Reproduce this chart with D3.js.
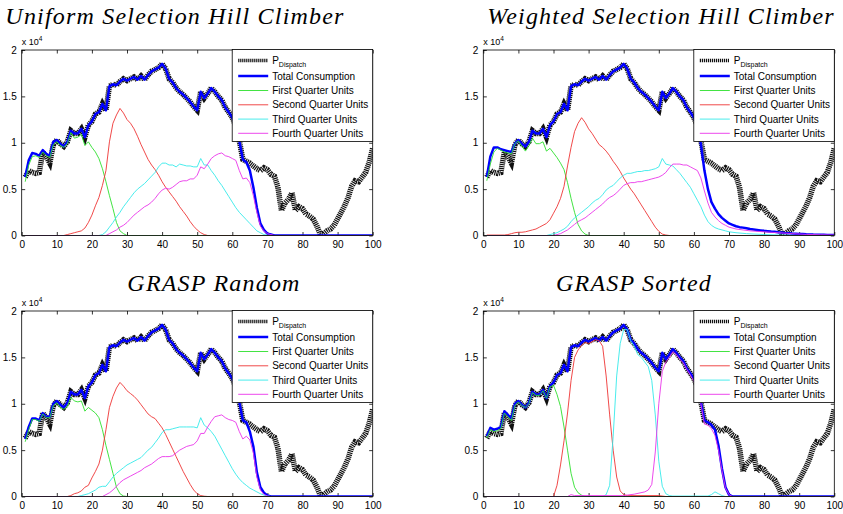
<!DOCTYPE html>
<html>
<head>
<meta charset="utf-8">
<script src="https://cdn.jsdelivr.net/npm/d3@7"></script>
<style>
body { margin: 0; background: #fff; }
svg { display: block; }
</style>
</head>
<body>
<svg id="svg" width="843" height="514"></svg>
<script>
var svg = d3.select("#svg");

// sample index on the x axis
var steps = d3.range(1, 101);

// values in units of 10^4
var pDispatch = [
  0.63,0.70,0.68,0.67,0.68,0.90,0.85,0.78,0.98,1.03,
  0.99,0.96,1.01,1.13,1.10,1.10,1.15,1.06,1.19,1.23,
  1.31,1.33,1.42,1.35,1.61,1.63,1.62,1.66,1.69,1.67,
  1.69,1.71,1.68,1.72,1.68,1.73,1.77,1.79,1.81,1.85,
  1.80,1.69,1.65,1.59,1.55,1.52,1.48,1.44,1.39,1.35,
  1.55,1.48,1.53,1.59,1.55,1.50,1.46,1.38,1.33,1.27,
  1.18,1.02,0.82,0.80,0.78,0.75,0.72,0.70,0.73,0.71,
  0.66,0.64,0.52,0.27,0.35,0.39,0.46,0.27,0.31,0.29,
  0.23,0.21,0.18,0.11,0.02,0.02,0.05,0.07,0.11,0.18,
  0.25,0.32,0.41,0.53,0.59,0.58,0.63,0.68,0.79,0.94
];

var uniformTotal = [
  0.63,0.81,0.89,0.88,0.86,0.92,0.88,0.86,1.01,1.03,
  0.99,0.96,1.01,1.13,1.10,1.10,1.15,1.06,1.19,1.23,
  1.31,1.33,1.42,1.35,1.61,1.63,1.62,1.66,1.69,1.67,
  1.69,1.71,1.68,1.72,1.68,1.73,1.77,1.79,1.81,1.85,
  1.80,1.69,1.65,1.59,1.55,1.52,1.48,1.44,1.39,1.35,
  1.55,1.48,1.53,1.59,1.55,1.50,1.46,1.38,1.33,1.27,
  1.18,1.02,0.82,0.79,0.70,0.52,0.30,0.13,0.06,0.02,
  0.01,0,0,0,0,0,0,0,0,0,
  0,0,0,0,0,0,0,0,0,0,
  0,0,0,0,0,0,0,0,0,0
];
var weightedTotal = [
  0.63,0.85,0.95,0.95,0.93,0.92,0.91,0.90,0.99,1.03,
  0.99,0.96,1.01,1.13,1.10,1.10,1.15,1.06,1.19,1.23,
  1.31,1.33,1.42,1.35,1.61,1.63,1.62,1.66,1.69,1.67,
  1.69,1.71,1.68,1.72,1.68,1.73,1.77,1.79,1.81,1.85,
  1.80,1.69,1.65,1.59,1.55,1.52,1.48,1.44,1.39,1.35,
  1.55,1.48,1.53,1.59,1.55,1.50,1.46,1.38,1.33,1.27,
  1.18,0.98,0.70,0.50,0.36,0.29,0.23,0.19,0.16,0.13,
  0.115,0.10,0.09,0.085,0.078,0.07,0.065,0.06,0.055,0.05,
  0.047,0.043,0.04,0.035,0.032,0.028,0.025,0.022,0.02,0.017,
  0.015,0.013,0.012,0.01,0.009,0.008,0.007,0.006,0.005,0.005
];
var randomTotal = [
  0.62,0.75,0.84,0.84,0.82,0.90,0.86,0.86,1.00,1.03,
  0.99,0.96,1.01,1.13,1.10,1.10,1.15,1.06,1.19,1.23,
  1.31,1.33,1.42,1.35,1.61,1.63,1.62,1.66,1.69,1.67,
  1.69,1.71,1.68,1.72,1.68,1.73,1.77,1.79,1.81,1.85,
  1.80,1.69,1.65,1.59,1.55,1.52,1.48,1.44,1.39,1.35,
  1.55,1.48,1.53,1.59,1.55,1.50,1.46,1.38,1.33,1.27,
  1.18,1.02,0.82,0.80,0.70,0.54,0.26,0.10,0.04,0.01,
  0,0,0,0,0,0,0,0,0,0,
  0,0,0,0,0,0,0,0,0,0,
  0,0,0,0,0,0,0,0,0,0
];
var sortedTotal = [
  0.65,0.74,0.72,0.73,0.75,0.92,0.88,0.84,1.00,1.03,
  0.99,0.96,1.01,1.13,1.10,1.10,1.15,1.06,1.19,1.23,
  1.31,1.33,1.42,1.35,1.61,1.63,1.62,1.66,1.69,1.67,
  1.69,1.71,1.68,1.72,1.68,1.73,1.77,1.79,1.81,1.85,
  1.80,1.69,1.65,1.59,1.55,1.52,1.48,1.44,1.39,1.35,
  1.55,1.48,1.53,1.59,1.55,1.50,1.46,1.38,1.33,1.27,
  1.18,1.02,0.82,0.80,0.77,0.72,0.55,0.30,0.10,0.02,
  0,0,0,0,0,0,0,0,0,0,
  0,0,0,0,0,0,0,0,0,0,
  0,0,0,0,0,0,0,0,0,0
];

// quarter unit series, [step, value]
var uniformFirst = [[1,0.58],[2,0.76],[3,0.85],[4,0.86],[5,0.84],[6,0.90],[7,0.86],[8,0.84],[9,0.98],[10,1.01],[11,0.97],[12,0.95],[13,0.99],[14,1.11],[15,1.05],[16,1.06],[17,1.09],[18,0.97],[19,1.01],[20,0.95],[21,0.90],[22,0.83],[23,0.72],[24,0.58],[25,0.43],[26,0.29],[27,0.14],[28,0.05],[29,0.02],[30,0],[100,0]];
var uniformSecond = [[1,0],[12,0],[13,0.01],[14,0.02],[15,0.03],[16,0.04],[17,0.05],[18,0.08],[19,0.14],[20,0.22],[21,0.32],[22,0.41],[23,0.54],[24,0.70],[25,1.01],[26,1.21],[27,1.30],[28,1.37],[29,1.32],[30,1.25],[31,1.21],[32,1.15],[33,1.07],[34,0.98],[35,0.90],[36,0.82],[37,0.76],[38,0.71],[39,0.65],[40,0.58],[41,0.52],[42,0.47],[43,0.42],[44,0.37],[45,0.31],[46,0.26],[47,0.21],[48,0.15],[49,0.10],[50,0.06],[51,0.03],[52,0.01],[53,0],[100,0]];
var uniformThird = [[1,0],[22,0],[23,0.01],[24,0.04],[25,0.09],[26,0.14],[27,0.20],[28,0.25],[29,0.31],[30,0.36],[31,0.41],[32,0.46],[33,0.50],[34,0.53],[35,0.56],[36,0.60],[37,0.64],[38,0.68],[39,0.74],[40,0.78],[41,0.78],[42,0.76],[43,0.76],[44,0.74],[45,0.77],[46,0.76],[47,0.75],[48,0.75],[49,0.74],[50,0.74],[51,0.83],[52,0.76],[53,0.76],[54,0.70],[55,0.65],[56,0.59],[57,0.54],[58,0.48],[59,0.42],[60,0.36],[61,0.30],[62,0.25],[63,0.21],[64,0.17],[65,0.13],[66,0.09],[67,0.05],[68,0.03],[69,0.01],[70,0.003],[71,0],[100,0]];
var uniformFourth = [[1,0],[24,0],[25,0.02],[26,0.04],[27,0.06],[28,0.09],[29,0.11],[30,0.14],[31,0.18],[32,0.22],[33,0.25],[34,0.28],[35,0.31],[36,0.33],[37,0.36],[38,0.40],[39,0.45],[40,0.49],[41,0.51],[42,0.50],[43,0.52],[44,0.55],[45,0.58],[46,0.59],[47,0.59],[48,0.61],[49,0.61],[50,0.65],[51,0.74],[52,0.72],[53,0.77],[54,0.83],[55,0.86],[56,0.88],[57,0.89],[58,0.86],[59,0.85],[60,0.83],[61,0.81],[62,0.70],[63,0.61],[64,0.62],[65,0.57],[66,0.43],[67,0.25],[68,0.10],[69,0.05],[70,0.02],[71,0.01],[72,0],[100,0]];

var weightedFirst = [[1,0.59],[2,0.77],[3,0.90],[4,0.94],[5,0.92],[6,0.90],[7,0.89],[8,0.88],[9,0.99],[10,1.02],[11,0.96],[12,0.91],[13,0.97],[14,1.05],[15,0.99],[16,0.99],[17,1.01],[18,0.91],[19,0.94],[20,0.89],[21,0.84],[22,0.78],[23,0.71],[24,0.57],[25,0.40],[26,0.25],[27,0.12],[28,0.05],[29,0.015],[30,0],[100,0]];
var weightedSecond = [[1,0.005],[6,0.005],[7,0.01],[8,0.02],[9,0.03],[10,0.035],[11,0.035],[12,0.04],[13,0.05],[14,0.06],[15,0.07],[16,0.09],[17,0.11],[18,0.13],[19,0.17],[20,0.24],[21,0.31],[22,0.40],[23,0.53],[24,0.75],[25,0.95],[26,1.12],[27,1.21],[28,1.27],[29,1.22],[30,1.15],[31,1.10],[32,1.04],[33,0.98],[34,0.95],[35,0.91],[36,0.86],[37,0.80],[38,0.75],[39,0.69],[40,0.62],[41,0.56],[42,0.50],[43,0.45],[44,0.39],[45,0.33],[46,0.27],[47,0.21],[48,0.15],[49,0.09],[50,0.045],[51,0.015],[52,0.005],[53,0],[100,0]];
var weightedThird = [[1,0],[18,0],[19,0.01],[20,0.02],[21,0.03],[22,0.05],[23,0.07],[24,0.10],[25,0.15],[26,0.19],[27,0.22],[28,0.25],[29,0.28],[30,0.31],[31,0.35],[32,0.38],[33,0.40],[34,0.44],[35,0.49],[36,0.52],[37,0.54],[38,0.58],[39,0.62],[40,0.65],[41,0.67],[42,0.67],[43,0.68],[44,0.69],[45,0.69],[46,0.70],[47,0.70],[48,0.71],[49,0.72],[50,0.74],[51,0.83],[52,0.77],[53,0.76],[54,0.75],[55,0.71],[56,0.67],[57,0.62],[58,0.57],[59,0.52],[60,0.45],[61,0.38],[62,0.31],[63,0.22],[64,0.15],[65,0.11],[66,0.085],[67,0.07],[68,0.06],[69,0.05],[70,0.04],[72,0.03],[75,0.02],[80,0.01],[85,0.005],[90,0],[100,0]];
var weightedFourth = [[1,0],[20,0],[21,0.01],[22,0.02],[23,0.04],[24,0.06],[25,0.09],[26,0.12],[27,0.15],[28,0.17],[29,0.19],[30,0.22],[31,0.25],[32,0.28],[33,0.31],[34,0.34],[35,0.38],[36,0.41],[37,0.43],[38,0.46],[39,0.50],[40,0.54],[41,0.56],[42,0.57],[43,0.57],[44,0.58],[45,0.58],[46,0.59],[47,0.60],[48,0.61],[49,0.62],[50,0.63],[51,0.65],[52,0.68],[53,0.73],[54,0.77],[55,0.77],[56,0.77],[57,0.76],[58,0.76],[59,0.74],[60,0.72],[61,0.70],[62,0.62],[63,0.48],[64,0.35],[65,0.25],[66,0.20],[67,0.16],[68,0.13],[69,0.11],[70,0.09],[72,0.07],[74,0.06],[76,0.05],[78,0.045],[80,0.04],[84,0.03],[88,0.02],[92,0.012],[96,0.008],[100,0.005]];

var randomFirst = [[1,0.59],[2,0.72],[3,0.83],[4,0.83],[5,0.81],[6,0.89],[7,0.85],[8,0.85],[9,0.98],[10,1.01],[11,0.96],[12,0.94],[13,0.97],[14,1.07],[15,1.03],[16,1.02],[17,1.03],[18,0.92],[19,0.96],[20,0.93],[21,0.90],[22,0.85],[23,0.72],[24,0.55],[25,0.40],[26,0.25],[27,0.10],[28,0.03],[29,0.005],[30,0],[100,0]];
var randomSecond = [[1,0],[13,0],[14,0.01],[15,0.03],[16,0.04],[17,0.06],[18,0.10],[19,0.12],[20,0.20],[21,0.27],[22,0.35],[23,0.50],[24,0.72],[25,0.96],[26,1.08],[27,1.17],[28,1.23],[29,1.19],[30,1.14],[31,1.11],[32,1.08],[33,1.04],[34,0.99],[35,0.94],[36,0.89],[37,0.86],[38,0.84],[39,0.79],[40,0.74],[41,0.67],[42,0.59],[43,0.51],[44,0.43],[45,0.35],[46,0.27],[47,0.20],[48,0.13],[49,0.07],[50,0.03],[51,0.01],[52,0.003],[53,0],[100,0]];
var randomThird = [[1,0],[16,0],[17,0.01],[18,0.02],[19,0.03],[20,0.05],[21,0.07],[22,0.10],[23,0.11],[24,0.11],[25,0.16],[26,0.21],[27,0.25],[28,0.28],[29,0.31],[30,0.34],[31,0.36],[32,0.38],[33,0.40],[34,0.42],[35,0.46],[36,0.50],[37,0.53],[38,0.58],[39,0.63],[40,0.69],[41,0.72],[42,0.72],[43,0.73],[44,0.74],[45,0.75],[46,0.75],[47,0.75],[48,0.75],[49,0.75],[50,0.74],[51,0.85],[52,0.77],[53,0.74],[54,0.70],[55,0.65],[56,0.58],[57,0.51],[58,0.44],[59,0.37],[60,0.30],[61,0.24],[62,0.19],[63,0.15],[64,0.12],[65,0.09],[66,0.07],[67,0.05],[68,0.03],[69,0.015],[70,0.005],[71,0],[100,0]];
var randomFourth = [[1,0],[23,0],[24,0.02],[25,0.04],[26,0.07],[27,0.11],[28,0.15],[29,0.18],[30,0.20],[31,0.22],[32,0.24],[33,0.26],[34,0.28],[35,0.31],[36,0.33],[37,0.35],[38,0.38],[39,0.41],[40,0.43],[41,0.43],[42,0.43],[43,0.44],[44,0.47],[45,0.50],[46,0.52],[47,0.54],[48,0.55],[49,0.56],[50,0.60],[51,0.68],[52,0.68],[53,0.75],[54,0.81],[55,0.86],[56,0.87],[57,0.88],[58,0.85],[59,0.83],[60,0.82],[61,0.80],[62,0.70],[63,0.62],[64,0.65],[65,0.61],[66,0.47],[67,0.21],[68,0.07],[69,0.025],[70,0.005],[71,0],[100,0]];

var sortedFirst = [[1,0.63],[2,0.72],[3,0.70],[4,0.71],[5,0.73],[6,0.90],[7,0.86],[8,0.82],[9,0.98],[10,1.02],[11,0.98],[12,0.96],[13,1.00],[14,1.12],[15,1.09],[16,1.09],[17,1.14],[18,1.06],[19,1.18],[20,1.20],[21,1.10],[22,0.97],[23,0.75],[24,0.50],[25,0.25],[26,0.10],[27,0.04],[28,0.015],[29,0],[100,0]];
var sortedSecond = [[1,0],[20,0],[21,0.12],[22,0.34],[23,0.60],[24,0.90],[25,1.25],[26,1.50],[27,1.58],[28,1.63],[29,1.66],[30,1.65],[31,1.67],[32,1.69],[33,1.68],[34,1.62],[35,1.30],[36,0.88],[37,0.50],[38,0.21],[39,0.06],[40,0.02],[41,0.01],[50,0.01],[52,0],[100,0]];
var sortedThird = [[1,0],[34,0],[35,0.02],[36,0.12],[37,0.65],[38,1.30],[39,1.65],[40,1.80],[41,1.80],[42,1.68],[43,1.62],[44,1.53],[45,1.50],[46,1.45],[47,1.40],[48,1.25],[49,0.88],[50,0.38],[51,0.11],[52,0.03],[53,0.01],[54,0.005],[64,0.005],[65,0.02],[66,0.05],[67,0.03],[68,0.01],[69,0],[100,0]];
var sortedFourth = [[1,0],[24,0],[25,0.02],[26,0.01],[40,0.01],[43,0.025],[46,0.05],[47,0.07],[48,0.13],[49,0.48],[50,1.00],[51,1.35],[52,1.45],[53,1.50],[54,1.56],[55,1.53],[56,1.48],[57,1.44],[58,1.37],[59,1.31],[60,1.24],[61,1.15],[62,1.00],[63,0.78],[64,0.77],[65,0.73],[66,0.66],[67,0.50],[68,0.28],[69,0.09],[70,0.02],[71,0],[100,0]];

var titles = ["Uniform Selection Hill Climber", "Weighted Selection Hill Climber", "GRASP Random", "GRASP Sorted"];
var legendLabels = ["P", "Total Consumption", "First Quarter Units", "Second Quarter Units", "Third Quarter Units", "Fourth Quarter Units"];
var xTicks = [0, 10, 20, 30, 40, 50, 60, 70, 80, 90, 100];
var yTicks = [0, 0.5, 1, 1.5, 2];
var quarterColors = ["#2ee02e", "#ee3434", "#34eaea", "#ea34ea"];

var panels = [
  {title: titles[0], left: 21.7, top: 50, titleX: 175, titleY: 24, total: uniformTotal, quarters: [uniformFirst, uniformSecond, uniformThird, uniformFourth]},
  {title: titles[1], left: 483.3, top: 50, titleX: 661, titleY: 23.5, total: weightedTotal, quarters: [weightedFirst, weightedSecond, weightedThird, weightedFourth]},
  {title: titles[2], left: 21.7, top: 311, titleX: 214, titleY: 291, total: randomTotal, quarters: [randomFirst, randomSecond, randomThird, randomFourth]},
  {title: titles[3], left: 483.3, top: 311, titleX: 634, titleY: 291, total: sortedTotal, quarters: [sortedFirst, sortedSecond, sortedThird, sortedFourth]}
];

var plotW = 351, plotH = 185.5;
var sans = "'Liberation Sans', Arial, sans-serif";

panels.forEach(function(p, k) {
  var g = svg.append("g");
  var x = d3.scaleLinear().domain([0, 100]).range([p.left, p.left + plotW]);
  var y = d3.scaleLinear().domain([0, 2]).range([p.top + plotH, p.top]);

  // title
  g.append("text")
    .attr("x", p.titleX).attr("y", p.titleY)
    .attr("text-anchor", "middle")
    .style("font-family", "'Liberation Serif', 'Times New Roman', serif")
    .style("font-style", "italic")
    .style("font-size", "24px")
    .style("letter-spacing", "1.2px")
    .text(p.title);

  // axes, ticks pointing inward
  g.append("g").attr("transform", "translate(0," + (p.top + plotH) + ")")
    .call(d3.axisBottom(x).tickValues(xTicks).tickSizeInner(-3.5).tickSizeOuter(0).tickPadding(5.5));
  g.append("g").attr("transform", "translate(0," + p.top + ")")
    .call(d3.axisTop(x).tickValues(xTicks).tickSizeInner(-3.5).tickSizeOuter(0).tickFormat(""));
  g.append("g").attr("transform", "translate(" + p.left + ",0)")
    .call(d3.axisLeft(y).tickValues(yTicks).tickSizeInner(-3.5).tickSizeOuter(0).tickPadding(5).tickFormat(d3.format("~g")));
  g.append("g").attr("transform", "translate(" + (p.left + plotW) + ",0)")
    .call(d3.axisRight(y).tickValues(yTicks).tickSizeInner(-3.5).tickSizeOuter(0).tickFormat(""));
  g.selectAll(".domain").remove();
  g.selectAll(".tick line").attr("stroke", "#000").attr("stroke-width", 0.8);
  g.selectAll(".tick text").style("font-family", sans).style("font-size", "10px").attr("fill", "#000");

  // exponent label
  var ex = g.append("text")
    .attr("x", p.left).attr("y", p.top - 5.5)
    .style("font-family", sans).style("font-size", "9px");
  ex.append("tspan").text("x 10");
  ex.append("tspan").attr("dy", -4).style("font-size", "6.5px").text("4");

  // plot area
  g.append("clipPath").attr("id", "clip" + k)
    .append("rect").attr("x", p.left).attr("y", p.top).attr("width", plotW).attr("height", plotH);
  var plot = g.append("g").attr("clip-path", "url(#clip" + k + ")");

  var line = d3.line().x(function(d) { return x(d[0]); }).y(function(d) { return y(d[1]); });

  plot.append("path")
    .attr("d", line(steps.map(function(s, i) { return [s, pDispatch[i]]; })))
    .attr("fill", "none").attr("stroke", "#111").attr("stroke-width", 5.5)
    .attr("stroke-dasharray", "1.2,0.8");
  plot.append("path")
    .attr("d", line(steps.map(function(s, i) { return [s, p.total[i]]; })))
    .attr("fill", "none").attr("stroke", "#0000ff").attr("stroke-width", 2.5)
    .attr("stroke-linejoin", "round");
  p.quarters.forEach(function(q, j) {
    plot.append("path")
      .attr("d", line(q))
      .attr("fill", "none").attr("stroke", quarterColors[j]).attr("stroke-width", 0.9);
  });

  // box
  g.append("rect")
    .attr("x", p.left).attr("y", p.top).attr("width", plotW).attr("height", plotH)
    .attr("fill", "none").attr("stroke", "#000").attr("stroke-width", 0.8);

  // legend
  var lx = p.left + plotW - 140.5, ly = p.top - 0.5;
  var lg = g.append("g");
  lg.append("rect").attr("x", lx).attr("y", ly).attr("width", 140.5).attr("height", 92)
    .attr("fill", "#fff").attr("stroke", "#000").attr("stroke-width", 0.8);
  var rowY = [11, 26.5, 41, 55.3, 69.6, 83.8];
  var sampleStyle = [
    {c: "#111", w: 3.5, dash: "1.2,0.8"},
    {c: "#0000ff", w: 2.5, dash: null},
    {c: quarterColors[0], w: 0.9, dash: null},
    {c: quarterColors[1], w: 0.9, dash: null},
    {c: quarterColors[2], w: 0.9, dash: null},
    {c: quarterColors[3], w: 0.9, dash: null}
  ];
  legendLabels.forEach(function(lab, i) {
    var cy = ly + rowY[i];
    lg.append("line")
      .attr("x1", lx + 6).attr("x2", lx + 36).attr("y1", cy).attr("y2", cy)
      .attr("stroke", sampleStyle[i].c).attr("stroke-width", sampleStyle[i].w)
      .attr("stroke-dasharray", sampleStyle[i].dash);
    var t = lg.append("text")
      .attr("x", lx + 40).attr("y", cy + 3.5)
      .style("font-family", sans).style("font-size", "10px");
    t.append("tspan").text(lab);
    if (i === 0) {
      t.attr("y", cy + 3);
      t.append("tspan").attr("dy", 3.5).style("font-size", "7px").text("Dispatch");
    }
  });
});
</script>
</body>
</html>
